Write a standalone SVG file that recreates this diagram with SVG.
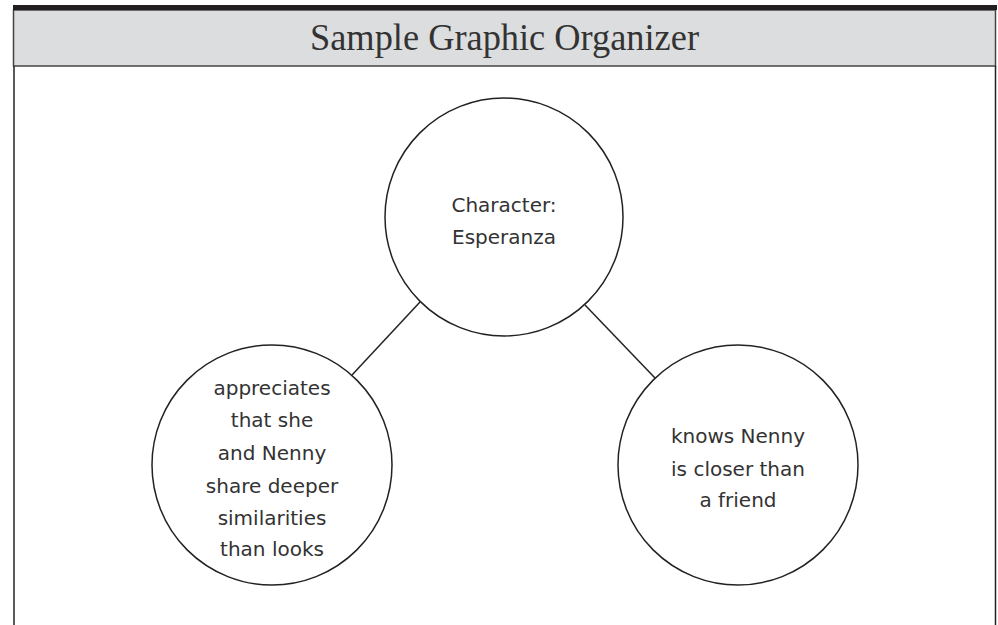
<svg xmlns="http://www.w3.org/2000/svg" width="998" height="625" viewBox="0 0 998 625">
<style>
.node circle{fill:#fff;stroke:#222;stroke-width:1.5}
.node text{font-family:"DejaVu Sans","Noto Sans",sans-serif;font-size:20px;fill:#333;text-anchor:middle}
.conn line{stroke:#222;stroke-width:1.5}
</style>
<rect x="0" y="0" width="998" height="625" fill="#fff"/>
<rect x="13.5" y="10" width="982" height="56" fill="#dcdddf" stroke="#444" stroke-width="1.5"/>
<rect x="13" y="5" width="984" height="5" fill="#231f20"/>
<line x1="14" y1="66" x2="14" y2="625" stroke="#222" stroke-width="1.5"/>
<line x1="995.5" y1="66" x2="995.5" y2="625" stroke="#222" stroke-width="1.5"/>
<text x="504.5" y="50" font-family="Liberation Serif, serif" font-size="38" fill="#333" text-anchor="middle" textLength="389" lengthAdjust="spacingAndGlyphs">Sample Graphic Organizer</text>
<g class="conn">
<line x1="420" y1="302" x2="352" y2="375"/>
<line x1="585" y1="305" x2="655" y2="378"/>
</g>
<g class="node" id="center">
<circle cx="504" cy="217" r="119"/>
<text x="504" y="212">Character:</text>
<text x="504" y="244">Esperanza</text>
</g>
<g class="node" id="left">
<circle cx="272" cy="465" r="120"/>
<text x="272" y="395">appreciates</text>
<text x="272" y="427">that she</text>
<text x="272" y="460">and Nenny</text>
<text x="272" y="493">share deeper</text>
<text x="272" y="525">similarities</text>
<text x="272" y="556">than looks</text>
</g>
<g class="node" id="right">
<circle cx="738" cy="465" r="120"/>
<text x="738" y="443">knows Nenny</text>
<text x="738" y="476">is closer than</text>
<text x="738" y="507">a friend</text>
</g>
</svg>
